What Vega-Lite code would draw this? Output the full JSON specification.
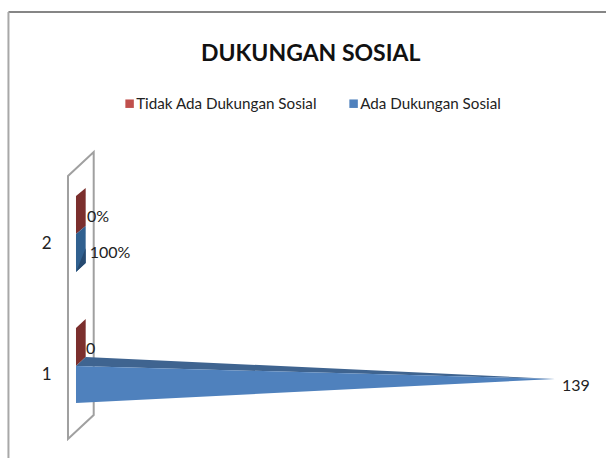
{
 "$schema":"https://vega.github.io/schema/vega-lite/v6.json",
 "width":598,"height":458,
 "autosize":{"type":"none"},
 "padding":{"left":8,"top":0,"right":0,"bottom":0},
 "background":"white",
 "view":{"stroke":null},
 "title":{"text":"DUKUNGAN SOSIAL","font":"Lato","fontSize":23,"fontWeight":"bold","color":"#111111","anchor":"start","frame":"group","dx":193,"offset":-84,"baseline":"alphabetic"},
 "datasets":{
  "wall":[{"x":-2.32,"y":2.511,"y2":0.504},{"x":5.14,"y":2.695,"y2":0.687}],
  "parts":[
   {"part":"r2","x":0,"y":2.359,"y2":2.069},{"part":"r2","x":2.81,"y":2.42,"y2":2.13},
   {"part":"b2","x":0,"y":2.069,"y2":1.779},{"part":"b2","x":2.81,"y":2.13,"y2":1.847},
   {"part":"d2","x":0,"y":1.779,"y2":1.779},{"part":"d2","x":2.81,"y":1.96,"y2":1.847},
   {"part":"r1","x":0,"y":1.351,"y2":1.061},{"part":"r1","x":2.81,"y":1.42,"y2":1.13},
   {"part":"t1","x":0,"y":1.061,"y2":1.061},{"part":"t1","x":2.81,"y":1.13,"y2":1.059},{"part":"t1","x":139,"y":0.962,"y2":0.962},
   {"part":"f1","x":0,"y":1.061,"y2":0.779},{"part":"f1","x":139,"y":0.962,"y2":0.962}
  ],
  "labels":[
   {"x":3.2,"y":2.2,"label":"0%"},
   {"x":4,"y":1.92,"label":"100%"},
   {"x":2.9,"y":1.19,"label":"0"},
   {"x":141,"y":0.91,"label":"139"}
  ],
  "legend":[{"series":"Tidak Ada Dukungan Sosial"},{"series":"Ada Dukungan Sosial"}],
  "frameTop":[{"x":-19.6,"x2":153.8,"y":3.763}],
  "frameLeft":[{"x":-19.6,"y":3.763,"y2":0.3588}]
 },
 "layer":[
  {"data":{"name":"wall"},
   "mark":{"type":"area","fill":"white","stroke":"#a0a0a0","strokeWidth":2},
   "encoding":{
    "x":{"field":"x","type":"quantitative","scale":{"domain":[-19.73,153.8],"nice":false,"zero":false},"axis":null},
    "y":{"field":"y","type":"quantitative","scale":{"domain":[0.3588,3.855],"nice":false,"zero":false},
      "axis":{"values":[1,2],"format":"d","title":null,"domain":false,"ticks":false,"grid":false,"offset":-47,"labelPadding":4,"labelFont":"Lato","labelFontSize":17,"labelColor":"#222222"}},
    "y2":{"field":"y2"}
   }},
  {"data":{"name":"frameTop"},
   "mark":{"type":"rule","color":"#868686","strokeWidth":2},
   "encoding":{"x":{"field":"x","type":"quantitative"},"x2":{"field":"x2"},"y":{"field":"y","type":"quantitative"}}},
  {"data":{"name":"frameLeft"},
   "mark":{"type":"rule","color":"#a8a8a8","strokeWidth":2},
   "encoding":{"x":{"field":"x","type":"quantitative"},"y":{"field":"y","type":"quantitative"},"y2":{"field":"y2"}}},
  {"data":{"name":"parts"},
   "mark":{"type":"area"},
   "encoding":{
    "x":{"field":"x","type":"quantitative"},
    "y":{"field":"y","type":"quantitative"},
    "y2":{"field":"y2"},
    "detail":{"field":"part"},
    "fill":{"field":"part","type":"nominal","legend":null,
      "scale":{"domain":["r2","b2","d2","r1","t1","f1"],"range":["#7b2f2d","#30608f","#264a70","#7b2f2d","#3f6490","#4f81bd"]}}
   }},
  {"data":{"name":"labels"},
   "mark":{"type":"text","align":"left","baseline":"middle","font":"Lato","fontSize":16,"color":"#222222"},
   "encoding":{
    "x":{"field":"x","type":"quantitative"},
    "y":{"field":"y","type":"quantitative"},
    "text":{"field":"label"}
   }},
  {"data":{"name":"legend"},
   "mark":{"type":"square","opacity":0,"filled":true},
   "encoding":{
    "color":{"field":"series","type":"nominal","sort":null,
      "scale":{"domain":["Tidak Ada Dukungan Sosial","Ada Dukungan Sosial"],"range":["#c0504d","#4f81bd"]},
      "legend":{"title":null,"orient":"none","legendX":114,"legendY":96,"direction":"horizontal","columns":2,"symbolType":"square","symbolSize":72,"symbolOpacity":1,"symbolStrokeWidth":0,"labelFont":"Lato","labelFontSize":15.2,"labelColor":"#222222","labelLimit":300,"columnPadding":29,"labelOffset":-1}}
   }}
 ],
 "resolve":{"scale":{"color":"independent","fill":"independent"}}
}
